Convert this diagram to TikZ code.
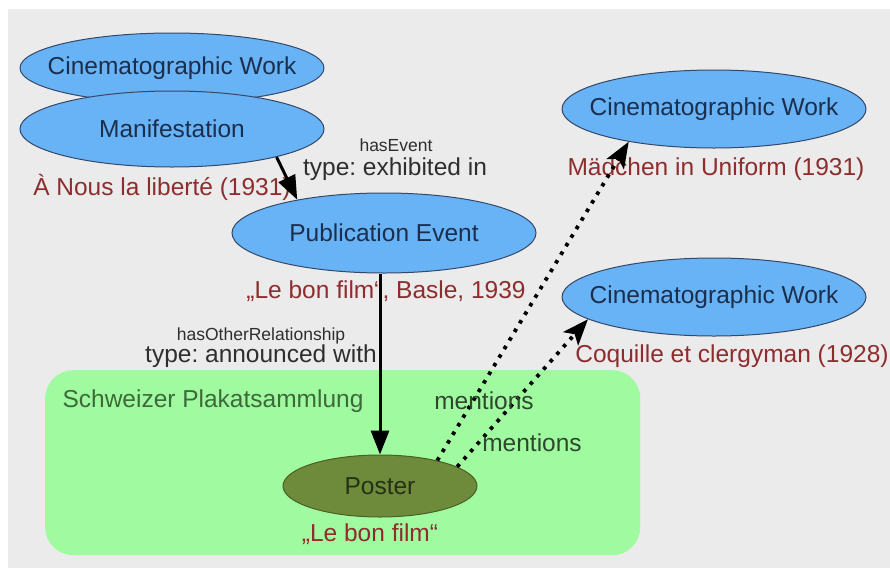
\documentclass[tikz,border=0pt]{standalone}
\usepackage{fontspec}
\setmainfont{Liberation Sans}
\usetikzlibrary{arrows.meta,shapes.geometric}
\definecolor{bgc}{HTML}{EBEBEB}
\definecolor{bluefill}{HTML}{68B2F6}
\definecolor{blueline}{HTML}{34496A}
\definecolor{bluetext}{HTML}{1B2F4C}
\definecolor{redtext}{HTML}{8E2D2D}
\definecolor{groupfill}{HTML}{A0FAA0}
\definecolor{grouptext}{HTML}{3C6A3A}
\definecolor{posterfill}{HTML}{6D8B3A}
\definecolor{posterline}{HTML}{4A5F28}
\definecolor{postertext}{HTML}{263016}
\definecolor{mentext}{HTML}{2F472F}
\definecolor{reltext}{HTML}{2E2E2E}
\frenchspacing
\tikzset{
  bigfont/.style={font=\fontsize{24.5}{28}\selectfont},
  smallfont/.style={font=\fontsize{17.5}{20}\selectfont},
  entity/.style={ellipse, draw=blueline, line width=1pt, fill=bluefill, text=bluetext,
    bigfont, inner sep=0pt, minimum width=304pt, minimum height=78pt},
  posternode/.style={ellipse, draw=posterline, line width=1pt, fill=posterfill, text=postertext,
    bigfont, inner sep=0pt, minimum width=194pt, minimum height=62pt},
  namelabel/.style={text=redtext, bigfont, inner sep=0pt},
  rellabel/.style={text=reltext, bigfont, inner sep=0pt},
  relsmall/.style={text=reltext, smallfont, inner sep=0pt},
  menlabel/.style={text=mentext, bigfont, inner sep=0pt},
  solidarrow/.style={line width=3pt, draw=black, -{Triangle[length=24pt,width=18pt]}},
  dotarrow/.style={line width=3.8pt, draw=black, dash pattern=on 3.6pt off 6.4pt,
    -{Stealth[length=26pt,width=20pt,inset=6pt]}},
}
\newcommand{\zw}[1]{\makebox[0pt]{#1}}
\begin{document}
\begin{tikzpicture}[x=1pt,y=-1pt]
\useasboundingbox (0,0) rectangle (890,573);
\fill[white] (0,0) rectangle (890,573);
\fill[bgc] (8,9) rectangle (890,568);
% group box
\node[fill=groupfill, rounded corners=28pt, minimum width=595pt, minimum height=185pt,
  inner sep=0pt, anchor=north west] (group) at (45,370) {};
\node[text=grouptext, bigfont, inner sep=0pt] (grouplabel) at (213,401) {Schweizer Plakatsammlung};
% entities
\node[entity, minimum height=70pt] (cw1) at (172,68) {\zw{Cinematographic Work}};
\node[entity, minimum height=76pt] (man) at (172,129) {\zw{Manifestation}};
\node[namelabel] (manname) at (162,187) {À Nous la liberté (1931)};
\node[entity, minimum height=80pt] (pe) at (384,233) {\zw{Publication Event}};
\node[namelabel] (pename) at (386,291) {„Le bon film“, Basle, 1939};
\node[entity] (cw2) at (714,109) {\zw{Cinematographic Work}};
\node[namelabel] (cw2name) at (716,169) {Mädchen in Uniform (1931)};
\node[entity] (cw3) at (714,297) {\zw{Cinematographic Work}};
\node[namelabel] (cw3name) at (732,356) {Coquille et clergyman (1928)};
\node[posternode] (poster) at (380,486) {\zw{Poster}};
\node[namelabel] (postername) at (370,534) {„Le bon film“};
% relation labels
\node[relsmall] (ev1) at (396,145) {hasEvent};
\node[rellabel] (ev2) at (395,169) {type: exhibited in};
\node[relsmall] (or1) at (261,336) {hasOtherRelationship};
\node[rellabel] (or2) at (261,356) {type: announced with};
% connectors
\draw[solidarrow] (man.-15.5) -- (pe.159);
\draw[solidarrow] (poster.north |- pe.south) -- (poster.north);
\draw[dotarrow] (poster.24) -- (cw2.201);
\draw[dotarrow] (poster.14) -- (cw3.190);
\node[menlabel] (men1) at (484,401) {mentions};
\node[menlabel] (men2) at (532,443) {mentions};
\end{tikzpicture}
\end{document}
